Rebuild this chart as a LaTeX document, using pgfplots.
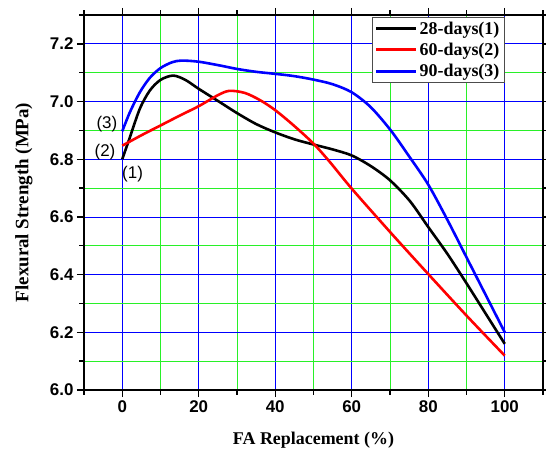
\documentclass[border=0pt]{standalone}
\usepackage{pgfplots}
\pgfplotsset{compat=1.18}
\usepackage{fontspec}
\setmainfont{Liberation Serif}
\newfontfamily\arial{Liberation Sans}
\usetikzlibrary{calc}
\definecolor{gblue}{RGB}{0,0,255}
\definecolor{ggreen}{RGB}{40,240,40}
\definecolor{cred}{RGB}{255,0,0}
\begin{document}
\begin{tikzpicture}
\begin{axis}[
  name=ax, scale only axis, width=459bp, height=375bp,
  xmin=-10, xmax=110, ymin=6.0, ymax=7.3,
  xtick={0,20,40,60,80,100},
  minor xtick={-10,10,30,50,70,90,110},
  ytick={6.0,6.2,6.4,6.6,6.8,7.0,7.2},
  minor ytick={6.1,6.3,6.5,6.7,6.9,7.1,7.3},
  tick align=outside,
  major tick length=7bp, minor tick length=4.5bp,
  every tick/.style={line width=1.4bp, black},
  axis line style={line width=2.2bp},
  grid=both,
  major grid style={gblue, line width=0.8bp},
  minor grid style={ggreen, line width=0.8bp},
  /pgf/number format/assume math mode=true,
  ticklabel style={font=\arial\bfseries\fontsize{17}{17}\selectfont},
  yticklabel style={/pgf/number format/.cd, fixed, fixed zerofill, precision=1},
  xlabel={FA Replacement (\%)},
  ylabel={Flexural Strength (MPa)},
  xlabel style={font=\bfseries\fontsize{18}{18}\selectfont, at={(axis description cs:0.5,-0.1333)}, anchor=center},
  ylabel style={font=\bfseries\fontsize{19}{19}\selectfont, at={(axis description cs:-0.1307,0.5)}, anchor=center},
  legend style={at={(0.9157,0.9955)}, anchor=north east, draw=black!70, line width=0.8bp, fill=white,
    font=\bfseries\fontsize{18}{18}\selectfont, inner sep=2.5bp, row sep=4bp,
    nodes={inner sep=2bp, text depth=1bp}},
  legend cell align=left,
  legend image code/.code={\draw[#1, line width=2.8bp] (0bp,0bp) -- (40bp,0bp);},
]
\coordinate (sw) at (rel axis cs:0,0);
\coordinate (ne) at (rel axis cs:1,1);
\addplot[black, line width=2.6bp, smooth, tension=0.5] coordinates {
(0,6.80) (2,6.876) (4.6,6.975) (7.2,7.038) (10,7.075) (13.3,7.090) (16.5,7.075) (20,7.044) (25.5,6.998) (30,6.96) (35,6.922) (40,6.893) (45,6.869) (50,6.851) (55,6.834) (60,6.813) (65,6.776) (70,6.727) (75.2,6.655) (80,6.565) (85,6.472) (90,6.37) (95,6.265) (100,6.16)
};
\addlegendentry{28-days(1)}
\addplot[cred, line width=2.6bp, smooth, tension=0.5] coordinates {
(0,6.847) (5,6.883) (10,6.917) (15,6.951) (20,6.984) (25,7.022) (28,7.037) (32,7.03) (36,7.005) (40,6.97) (45,6.915) (50,6.854) (54.3,6.79) (60,6.698) (70,6.548) (79.1,6.415) (90,6.258) (100,6.119)
};
\addlegendentry{60-days(2)}
\addplot[gblue, line width=2.6bp, smooth, tension=0.5] coordinates {
(0,6.897) (2,6.963) (4.6,7.032) (7.2,7.082) (10,7.116) (13,7.136) (15.5,7.142) (20,7.138) (25.5,7.125) (30,7.113) (35,7.103) (40,7.096) (45,7.088) (50,7.076) (55,7.06) (60,7.032) (65,6.98) (70.2,6.90) (75,6.81) (80,6.712) (85,6.59) (90,6.46) (95,6.33) (100,6.2)
};
\addlegendentry{90-days(3)}
\node[font=\arial\fontsize{17}{17}\selectfont] at (axis cs:-4.0,6.920) {(3)};
\node[font=\arial\fontsize{17}{17}\selectfont] at (axis cs:-4.5,6.823) {(2)};
\node[font=\arial\fontsize{17}{17}\selectfont] at (axis cs:2.7,6.747) {(1)};
\end{axis}
\pgfresetboundingbox
\path[use as bounding box] ($(sw)+(-84bp,-70bp)$) rectangle ($(ne)+(3bp,15bp)$);
\end{tikzpicture}
\end{document}
